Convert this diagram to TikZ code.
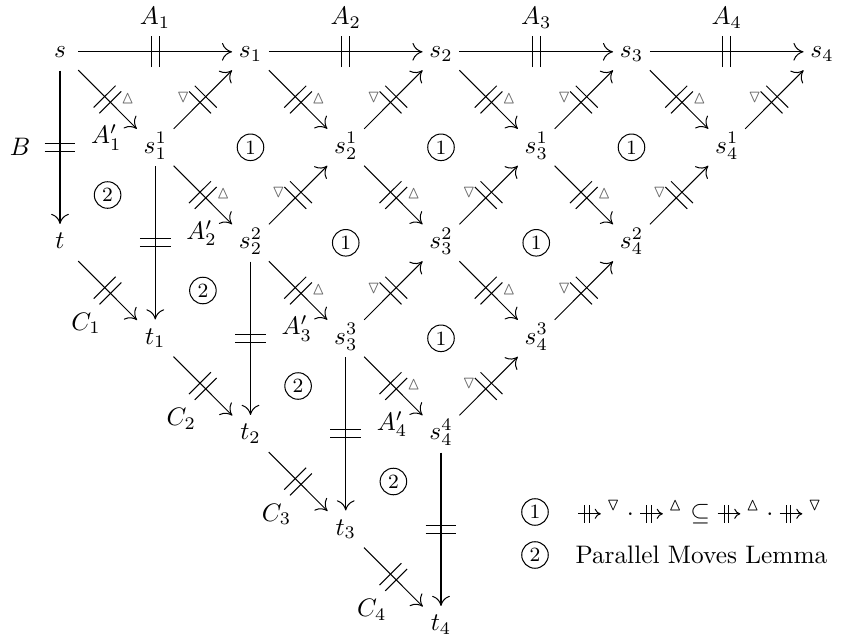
\documentclass[tikz,border=0pt]{standalone}
\usepackage{amssymb}
\usetikzlibrary{arrows.meta,decorations.markings}
\newcommand\parto{\mathord{\tikz[baseline={(0,-2.5pt)},x=1pt,y=1pt]{\draw[line width=0.4pt,-{To[length=2.4pt,width=4pt]}] (0,0)--(9,0); \draw[line width=0.4pt] (2.6,-3.6)--(2.6,3.6) (4.4,-3.6)--(4.4,3.6);}\kern2pt}}
\begin{document}
\begin{tikzpicture}[x=0.3953pt,y=-0.3953pt,
  obj/.style={anchor=base,text height=7pt,text depth=2.5pt,inner sep=2.5pt,minimum width=14pt},
  arr/.style={line width=0.4pt,-{To[length=4pt,width=7pt]}},
  bars/.style={postaction={decorate,decoration={markings,
     mark=at position 0.5 with {\draw[line width=0.4pt,arrows=-] (-1.6pt,-6.1pt)--(-1.6pt,6.1pt) (1.6pt,-6.1pt)--(1.6pt,6.1pt);}}}},
  up/.style={text=black!60,xshift=8pt,yshift=0.5pt,inner sep=0pt},
  dn/.style={text=black!60,xshift=-7.8pt,yshift=1pt,inner sep=0pt},
  lab/.style={inner sep=0pt},
  circ/.style={circle,draw,line width=0.4pt,inner sep=0pt,minimum size=10.5pt,font=\footnotesize}]
\useasboundingbox (0,0) rectangle (845,644);
% objects
\node[obj] (s)  at (60,57.5) {$s$};
\node[obj] (s1) at (250.5,57.5) {$s_1$};
\node[obj] (s2) at (441,57.5) {$s_2$};
\node[obj] (s3) at (631.5,57.5) {$s_3$};
\node[obj] (s4) at (822,57.5) {$s_4$};
\node[obj] (s11) at (155.25,153) {$s_1^1$};
\node[obj] (s21) at (345.75,153) {$s_2^1$};
\node[obj] (s31) at (536.25,153) {$s_3^1$};
\node[obj] (s41) at (726.75,153) {$s_4^1$};
\node[obj] (t)   at (60,248.5) {$t$};
\node[obj] (s22) at (250.5,248.5) {$s_2^2$};
\node[obj] (s32) at (441,248.5) {$s_3^2$};
\node[obj] (s42) at (631.5,248.5) {$s_4^2$};
\node[obj] (t1)  at (155.25,344) {$t_1$};
\node[obj] (s33) at (345.75,344) {$s_3^3$};
\node[obj] (s43) at (536.25,344) {$s_4^3$};
\node[obj] (t2)  at (250.5,439.5) {$t_2$};
\node[obj] (s44) at (441,439.5) {$s_4^4$};
\node[obj] (t3)  at (345.75,535) {$t_3$};
\node[obj] (t4)  at (441,630.5) {$t_4$};
% horizontal
\draw[arr,bars] (s) -- node[lab,yshift=13.5pt] {$A_1$} (s1);
\draw[arr,bars] (s1) -- node[lab,yshift=13.5pt] {$A_2$} (s2);
\draw[arr,bars] (s2) -- node[lab,yshift=13.5pt] {$A_3$} (s3);
\draw[arr,bars] (s3) -- node[lab,yshift=13.5pt] {$A_4$} (s4);
% down-right (triangle up)
\draw[arr,bars] (s) -- node[up] {$\scriptstyle\vartriangle$} node[lab,xshift=-0.5pt,yshift=-15pt] {$A_1'$} (s11);
\draw[arr,bars] (s1) -- node[up] {$\scriptstyle\vartriangle$} (s21);
\draw[arr,bars] (s2) -- node[up] {$\scriptstyle\vartriangle$} (s31);
\draw[arr,bars] (s3) -- node[up] {$\scriptstyle\vartriangle$} (s41);
\draw[arr,bars] (s11) -- node[up] {$\scriptstyle\vartriangle$} node[lab,xshift=-0.5pt,yshift=-15pt] {$A_2'$} (s22);
\draw[arr,bars] (s21) -- node[up] {$\scriptstyle\vartriangle$} (s32);
\draw[arr,bars] (s31) -- node[up] {$\scriptstyle\vartriangle$} (s42);
\draw[arr,bars] (s22) -- node[up] {$\scriptstyle\vartriangle$} node[lab,xshift=-0.5pt,yshift=-15pt] {$A_3'$} (s33);
\draw[arr,bars] (s32) -- node[up] {$\scriptstyle\vartriangle$} (s43);
\draw[arr,bars] (s33) -- node[up] {$\scriptstyle\vartriangle$} node[lab,xshift=-0.5pt,yshift=-15pt] {$A_4'$} (s44);
% up-right (triangle down)
\draw[arr,bars] (s11) -- node[dn] {$\scriptstyle\triangledown$} (s1);
\draw[arr,bars] (s21) -- node[dn] {$\scriptstyle\triangledown$} (s2);
\draw[arr,bars] (s31) -- node[dn] {$\scriptstyle\triangledown$} (s3);
\draw[arr,bars] (s41) -- node[dn] {$\scriptstyle\triangledown$} (s4);
\draw[arr,bars] (s22) -- node[dn] {$\scriptstyle\triangledown$} (s21);
\draw[arr,bars] (s32) -- node[dn] {$\scriptstyle\triangledown$} (s31);
\draw[arr,bars] (s42) -- node[dn] {$\scriptstyle\triangledown$} (s41);
\draw[arr,bars] (s33) -- node[dn] {$\scriptstyle\triangledown$} (s32);
\draw[arr,bars] (s43) -- node[dn] {$\scriptstyle\triangledown$} (s42);
\draw[arr,bars] (s44) -- node[dn] {$\scriptstyle\triangledown$} (s43);
% vertical
\draw[arr,bars] (s) -- node[lab,xshift=-15.8pt] {$B$} (t);
\draw[arr,bars] (s11) -- (t1);
\draw[arr,bars] (s22) -- (t2);
\draw[arr,bars] (s33) -- (t3);
\draw[arr,bars] (s44) -- (t4);
% C arrows
\draw[arr,bars] (t) -- node[lab,xshift=-8.5pt,yshift=-13pt] {$C_1$} (t1);
\draw[arr,bars] (t1) -- node[lab,xshift=-8.5pt,yshift=-13pt] {$C_2$} (t2);
\draw[arr,bars] (t2) -- node[lab,xshift=-8.5pt,yshift=-13pt] {$C_3$} (t3);
\draw[arr,bars] (t3) -- node[lab,xshift=-8.5pt,yshift=-13pt] {$C_4$} (t4);
% circled
\node[circ] (c1) at (250.5,147.3) {1};
\node[circ] (c2) at (441,147.3) {1};
\node[circ] (c3) at (631.5,147.3) {1};
\node[circ] (c4) at (345.75,242.8) {1};
\node[circ] (c5) at (536.25,242.8) {1};
\node[circ] (c6) at (441,338.3) {1};
\node[circ] (d1) at (107.6,195) {2};
\node[circ] (d2) at (202.9,290.5) {2};
\node[circ] (d3) at (298.1,386) {2};
\node[circ] (d4) at (393.4,481.5) {2};
% legend
\node[circ] (l1) at (535,512) {1};
\node[circ] (l2) at (535,555) {2};
\node[anchor=west,inner sep=0pt] (lt1) at (577,512) {$\parto^{\triangledown}\mathbin{\cdot}\parto^{\vartriangle}\mathrel{\subseteq}\parto^{\vartriangle}\mathbin{\cdot}\parto^{\triangledown}$};
\node[anchor=west,inner sep=0pt] (lt2) at (575,555) {Parallel Moves Lemma};
\end{tikzpicture}
\end{document}
